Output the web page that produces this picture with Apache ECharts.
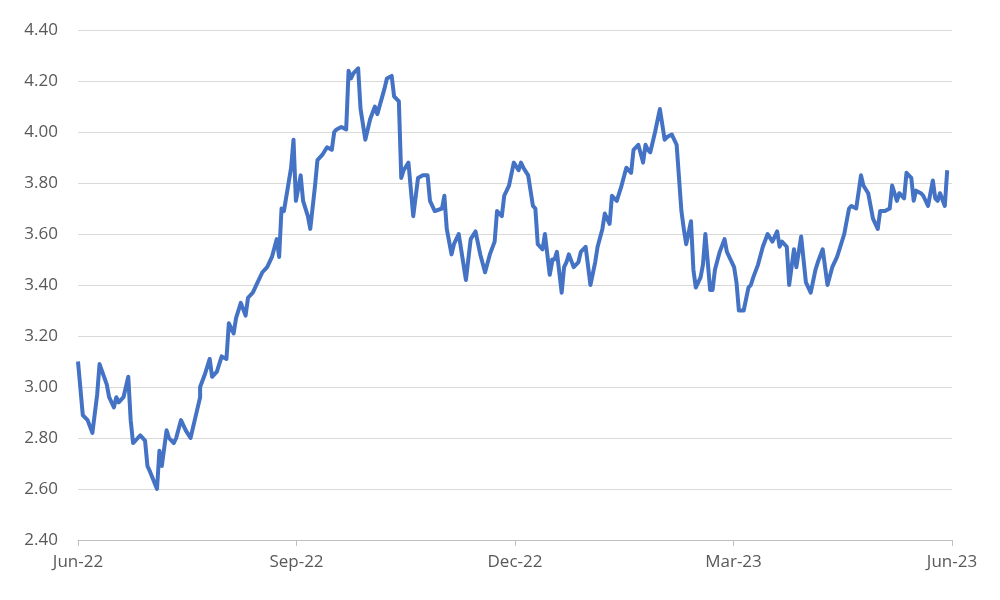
<!DOCTYPE html>
<html><head><meta charset="utf-8">
<script src="https://cdn.jsdelivr.net/npm/echarts@6/dist/echarts.min.js"></script>
<style>html,body{margin:0;padding:0;background:#fff}#c{width:1000px;height:600px}</style>
</head><body><div id="c"></div>
<script>
const tickLabels = ['Jun-22','Sep-22','Dec-22','Mar-23','Jun-23'];
const days = [0,2,4,6,8,9,12,13,15,16,17,19,21,22,23,25,26,28,29,30,33,34,35,37,38,40,41,43,45,47,49,51,51,53,55,56,58,60,62,63,65,66,68,70,71,73,75,77,79,81,83,84,85,86,89,90,91,93,94,96,97,99,100,102,104,106,107,108,110,112,113,114,115,117,118,120,122,124,125,128,129,131,132,134,135,136,138,140,142,144,146,147,149,152,153,154,156,157,159,162,164,166,168,170,172,174,175,177,178,180,182,184,185,186,188,190,191,192,194,195,197,198,198,199,200,202,203,204,205,207,209,210,212,214,216,217,219,220,222,223,225,227,229,231,232,234,236,237,238,239,241,243,245,246,248,250,252,253,254,256,257,258,260,261,262,264,265,266,268,270,271,274,275,276,278,280,281,282,284,286,288,290,292,293,294,296,297,299,300,302,304,306,308,309,311,313,315,317,318,320,322,323,325,327,328,330,332,334,335,337,339,340,342,343,345,346,348,349,350,352,353,355,357,358,359,360,362,363,364,365];
const values = [3.10,2.89,2.87,2.82,2.97,3.09,3.01,2.96,2.92,2.96,2.94,2.96,3.04,2.87,2.78,2.80,2.81,2.79,2.69,2.67,2.60,2.75,2.69,2.83,2.80,2.78,2.80,2.87,2.83,2.80,2.88,2.96,3.00,3.05,3.11,3.04,3.06,3.12,3.11,3.25,3.21,3.27,3.33,3.28,3.35,3.37,3.41,3.45,3.47,3.51,3.58,3.51,3.70,3.69,3.86,3.97,3.73,3.83,3.73,3.67,3.62,3.79,3.89,3.91,3.94,3.93,4.00,4.01,4.02,4.01,4.24,4.21,4.23,4.25,4.09,3.97,4.05,4.10,4.07,4.17,4.21,4.22,4.14,4.12,3.82,3.85,3.88,3.67,3.82,3.83,3.83,3.73,3.69,3.70,3.75,3.62,3.52,3.56,3.60,3.42,3.58,3.61,3.52,3.45,3.52,3.57,3.69,3.67,3.75,3.79,3.88,3.85,3.88,3.86,3.83,3.71,3.70,3.56,3.54,3.60,3.44,3.49,3.50,3.50,3.53,3.37,3.47,3.49,3.52,3.47,3.49,3.53,3.55,3.40,3.49,3.55,3.62,3.68,3.64,3.75,3.73,3.79,3.86,3.84,3.93,3.95,3.88,3.95,3.93,3.92,4.00,4.09,3.97,3.98,3.99,3.95,3.69,3.62,3.56,3.65,3.46,3.39,3.43,3.48,3.60,3.38,3.38,3.46,3.53,3.58,3.53,3.47,3.41,3.30,3.30,3.39,3.40,3.43,3.48,3.55,3.60,3.57,3.61,3.55,3.57,3.55,3.40,3.54,3.47,3.59,3.41,3.37,3.46,3.49,3.54,3.40,3.47,3.51,3.54,3.60,3.70,3.71,3.70,3.83,3.79,3.76,3.66,3.62,3.69,3.69,3.70,3.79,3.73,3.76,3.74,3.84,3.82,3.73,3.77,3.76,3.75,3.71,3.81,3.74,3.73,3.76,3.71,3.85];
const data = days.map((d,i)=>[d, values[i]]);
const chart = echarts.init(document.getElementById('c'));
chart.setOption({
  animation:false,
  grid:{left:78,right:48,top:30,bottom:60},
  xAxis:{type:'value',min:0,max:365,interval:91.25,
    axisLine:{show:true,lineStyle:{color:'#bfbfbf',width:1}},
    axisTick:{show:true,length:6,lineStyle:{color:'#bfbfbf'}},
    splitLine:{show:false},
    axisLabel:{color:'#595959',fontSize:17,fontFamily:'"Open Sans", "Noto Sans", sans-serif',margin:14,
      formatter:v=>tickLabels[Math.round(v/91.25)]||''}},
  yAxis:{type:'value',min:2.4,max:4.4,interval:0.2,
    axisLine:{show:false},axisTick:{show:false},
    splitLine:{lineStyle:{color:'#d9d9d9',width:1}},
    axisLabel:{color:'#595959',fontSize:17,fontFamily:'"Open Sans", "Noto Sans", sans-serif',margin:20,
      formatter:v=>v.toFixed(2)}},
  series:[{type:'line',data:data,showSymbol:false,
    lineStyle:{color:'#4472C4',width:4,join:'round'}}]
});
</script></body></html>
